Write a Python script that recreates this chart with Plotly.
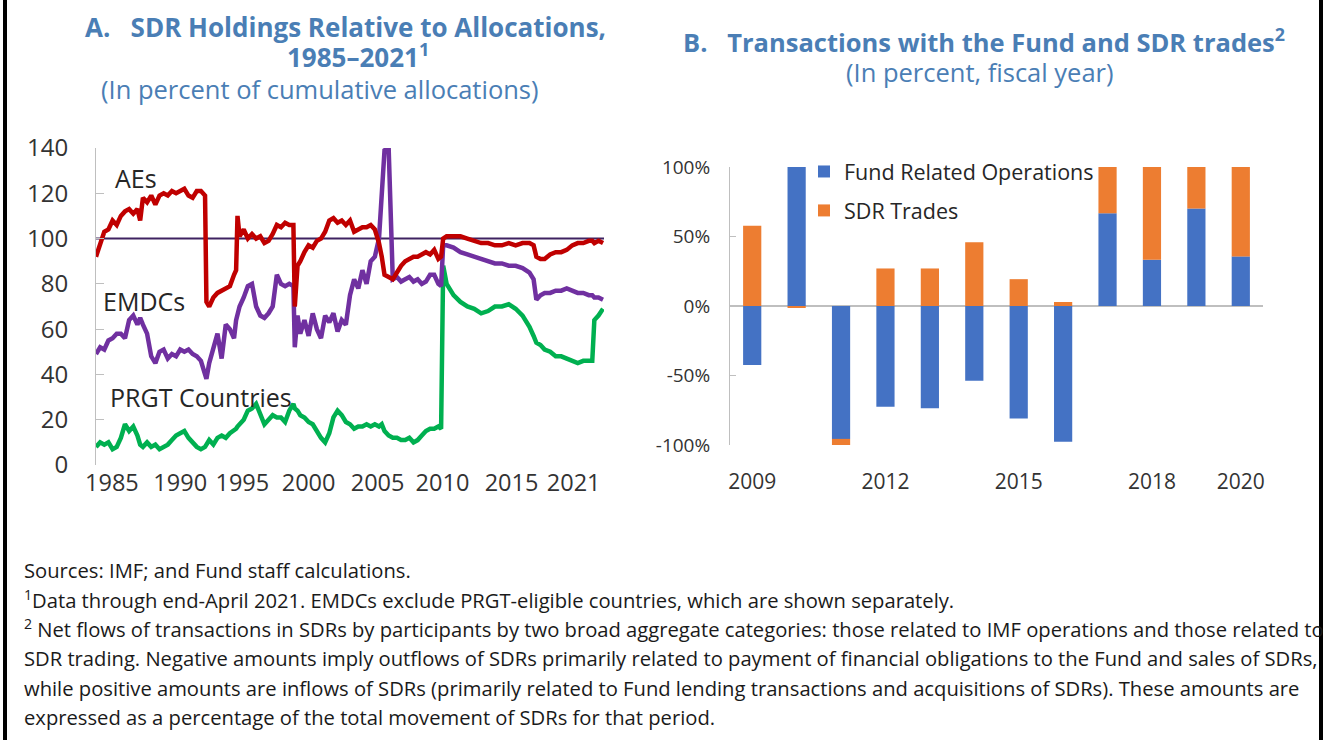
import plotly.graph_objects as go

# ---------------- Panel A data (percent of cumulative allocations) ----------------
years = [
    1984.6, 1984.9, 1985.2, 1985.5, 1985.8, 1986.1, 1986.4, 1986.7, 1987.0, 1987.3,
    1987.6, 1987.8, 1988.0, 1988.3, 1988.6, 1988.9, 1989.2, 1989.5, 1989.8, 1990.1,
    1990.4, 1990.7, 1991.0, 1991.3, 1991.6, 1991.9, 1992.2, 1992.5, 1992.6, 1992.8,
    1993.1, 1993.4, 1993.7, 1994.0, 1994.3, 1994.6, 1994.75, 1994.85, 1995.0, 1995.3,
    1995.6, 1995.9, 1996.2, 1996.5, 1996.8, 1997.1, 1997.4, 1997.7, 1998.0, 1998.3,
    1998.6, 1998.9, 1999.0, 1999.2, 1999.4, 1999.7, 2000.0, 2000.3, 2000.6, 2000.9,
    2001.2, 2001.5, 2001.8, 2002.1, 2002.4, 2002.7, 2003.0, 2003.3, 2003.6, 2003.9,
    2004.2, 2004.5, 2004.8, 2005.1, 2005.3, 2005.5, 2005.8, 2006.1, 2006.4, 2006.7,
    2007.0, 2007.3, 2007.6, 2007.9, 2008.2, 2008.5, 2008.8, 2009.1, 2009.4, 2009.6,
    2009.75, 2010.0, 2010.5, 2011.0, 2011.5, 2012.0, 2012.5, 2013.0, 2013.5, 2014.0,
    2014.5, 2015.0, 2015.5, 2016.0, 2016.3, 2016.5, 2016.8, 2017.1, 2017.5, 2017.9,
    2018.3, 2018.7, 2019.1, 2019.5, 2019.9, 2020.3, 2020.55, 2020.7, 2021.0, 2021.33,
]
aes = [
    92, 97, 103, 104, 108, 106, 110, 112, 113, 111,
    113, 108, 118, 116, 119, 115, 119, 120, 119, 121,
    120, 121, 122, 119, 118, 121, 121, 119, 72, 70,
    74, 76, 77, 78, 79, 84, 86, 110, 101, 104,
    100, 102, 100, 101, 98, 99, 102, 106, 105, 107,
    106, 106, 70, 88, 90, 94, 97, 96, 99, 100,
    103, 108, 109, 107, 108, 106, 108, 103, 104, 105,
    105, 106, 104, 98, 92, 84, 83, 82, 85, 88,
    90, 91, 92, 92, 93, 94, 93, 95, 91, 92,
    100, 101, 101, 101, 100, 99, 98, 98, 97, 97,
    98, 97, 98, 98, 97, 92, 91, 91, 93, 94,
    94, 95, 97, 98, 98, 99, 99, 98, 99, 98,
]
emdcs = [
    49, 52, 51, 55, 56, 58, 58, 56, 64, 66,
    62, 65, 62, 58, 48, 45, 50, 51, 47, 49,
    48, 51, 50, 51, 49, 48, 46, 40, 38, 45,
    51, 58, 47, 62, 60, 56, 64, 66, 70, 74,
    79, 80, 70, 66, 65, 67, 70, 84, 80, 79,
    80, 79, 52, 66, 58, 64, 57, 67, 60, 56,
    66, 63, 67, 59, 64, 62, 75, 82, 78, 86,
    80, 90, 92, 100, 122, 139, 140, 82, 83, 81,
    82, 83, 81, 82, 80, 81, 84, 84, 80, 79,
    97, 97, 96, 94, 93, 92, 91, 90, 89, 89,
    88, 88, 87, 85, 82, 73, 75, 76, 76, 77,
    77, 78, 77, 76, 76, 75, 75, 74, 74, 73,
]
prgt = [
    8, 10, 9, 10, 7, 8, 12, 18, 15, 17,
    13, 9, 8, 10, 8, 9, 7, 8, 9, 11,
    13, 14, 15, 12, 10, 8, 7, 8, 9, 11,
    9, 12, 13, 12, 14, 15, 16, 17, 18, 20,
    24, 25, 27, 23, 18, 20, 22, 21, 21, 19,
    24, 27, 25, 24, 22, 21, 19, 18, 15, 12,
    10, 14, 21, 24, 22, 19, 18, 16, 17, 17,
    18, 17, 18, 17, 18, 15, 13, 12, 12, 11,
    11, 12, 10, 11, 13, 15, 16, 16, 17, 16,
    88, 80, 75, 72, 70, 69, 67, 68, 70, 70,
    71, 69, 66, 61, 57, 54, 53, 51, 50, 48,
    48, 47, 46, 45, 46, 46, 46, 64, 66, 69,
]
reference_level = 100
a_tick_labels = ["1985", "1990", "1995", "2000", "2005", "2010", "2015", "2021"]
a_tick_positions = [1985.75, 1990.7, 1995.2, 2000.0, 2005.0, 2009.7, 2014.7, 2019.2]

# ---------------- Panel B data (percent of total SDR movement, fiscal year) ----------------
fiscal_years = [2009, 2010, 2011, 2012, 2013, 2014, 2015, 2016, 2017, 2018, 2019, 2020]
fund_ops = [-42.4, 100.8, -95.6, -72.5, -73.5, -53.7, -81.0, -97.6, 66.7, 33.3, 70.1, 35.7]
sdr_trades = [57.8, -1.0, -4.4, 27.0, 27.0, 45.8, 19.3, 2.9, 33.3, 66.7, 29.9, 64.3]
b_tick_years = [2009, 2012, 2015, 2018, 2020]

W, H = 1326, 740
FONT = "Open Sans"
TITLE_BLUE = "#4A7EB5"
TXT = "#262626"


def pxx(x):
    return x / W


def pyy(y):
    return 1 - y / H


fig = go.Figure()

# Reference line at 100
fig.add_shape(type="line", xref="x domain", yref="y", x0=0, x1=1,
              y0=reference_level, y1=reference_level,
              line=dict(color="#3F2261", width=2), layer="below")

fig.add_trace(go.Scatter(x=years, y=prgt, mode="lines", name="PRGT Countries",
                         line=dict(color="#00B050", width=4.5), showlegend=False,
                         xaxis="x", yaxis="y"))
fig.add_trace(go.Scatter(x=years, y=emdcs, mode="lines", name="EMDCs",
                         line=dict(color="#7030A0", width=4.5), showlegend=False,
                         xaxis="x", yaxis="y"))
fig.add_trace(go.Scatter(x=years, y=aes, mode="lines", name="AEs",
                         line=dict(color="#C00000", width=4.5), showlegend=False,
                         xaxis="x", yaxis="y"))

fig.add_trace(go.Bar(x=fiscal_years, y=fund_ops, name="Fund Related Operations",
                     marker=dict(color="#4472C4", line=dict(width=0)),
                     xaxis="x2", yaxis="y2", legendgroup="a"))
fig.add_trace(go.Bar(x=fiscal_years, y=sdr_trades, name="SDR Trades",
                     marker=dict(color="#ED7D31", line=dict(width=0)),
                     xaxis="x2", yaxis="y2", legendgroup="b"))

fig.update_layout(
    template="none",
    width=W, height=H, autosize=False,
    margin=dict(l=0, r=0, t=0, b=0, pad=0, autoexpand=False),
    paper_bgcolor="white", plot_bgcolor="white",
    font=dict(family=FONT, color=TXT),
    barmode="relative", bargap=0.59,
    legend=dict(x=pxx(804), y=pyy(151), xanchor="left", yanchor="top",
                font=dict(size=21.5, color=TXT), bgcolor="rgba(0,0,0,0)",
                tracegroupgap=8, itemwidth=30),
    xaxis=dict(domain=[pxx(96), pxx(604)], range=[1984.6, 2021.4], anchor="y",
               automargin=False,
               tickvals=a_tick_positions, ticktext=a_tick_labels,
               showgrid=False, zeroline=False, showline=False, ticks="",
               tickfont=dict(size=23.5, color="#333333"), ticklabelstandoff=1),
    yaxis=dict(domain=[pyy(465), pyy(148)], range=[0, 140], anchor="x",
               automargin=False,
               tickvals=[0, 20, 40, 60, 80, 100, 120, 140],
               showgrid=False, zeroline=False, showline=True,
               linecolor="#BFBFBF", linewidth=1,
               ticks="inside", ticklen=8, tickcolor="#BFBFBF",
               tickfont=dict(size=24, color="#333333"), ticklabelstandoff=22),
    xaxis2=dict(domain=[pxx(730), pxx(1263)], range=[2008.5, 2020.5], anchor="y2",
                automargin=False,
                tickvals=b_tick_years, ticktext=[str(v) for v in b_tick_years],
                showgrid=False, zeroline=False, showline=False, ticks="",
                tickfont=dict(size=21, color="#333333"), ticklabelstandoff=22),
    yaxis2=dict(domain=[pyy(445), pyy(167)], range=[-100, 100], anchor="x2",
                automargin=False,
                tickvals=[-100, -50, 0, 50, 100],
                ticktext=["-100%", "-50%", "0%", "50%", "100%"],
                showgrid=False, showline=True, linecolor="#BFBFBF", linewidth=1,
                zeroline=True, zerolinecolor="#BFBFBF", zerolinewidth=1.5,
                ticks="inside", ticklen=6, tickcolor="#BFBFBF",
                tickfont=dict(size=19, color="#333333"), ticklabelstandoff=15),
)


def text(x, y, s, size, color=TXT, anchor="center", bold=False):
    fig.add_annotation(x=pxx(x), y=pyy(y), xref="paper", yref="paper",
                       text=("<b>%s</b>" % s) if bold else s, showarrow=False,
                       xanchor=anchor, yanchor="middle",
                       font=dict(size=size, color=color, family=FONT))


# Titles
text(345, 27, "A.   SDR Holdings Relative to Allocations,", 26, TITLE_BLUE, bold=True)
text(358, 56, "1985–2021<sup>1</sup>", 26, TITLE_BLUE, bold=True)
text(320, 89, "(In percent of cumulative allocations)", 25.5, TITLE_BLUE)
text(984, 40, "B.   Transactions with the Fund and SDR trades<sup>2</sup>", 25.5, TITLE_BLUE, bold=True)
text(980, 72, "(In percent, fiscal year)", 25.5, TITLE_BLUE)

# Line labels
text(136, 178, "AEs", 25)
text(144, 301, "EMDCs", 25)
text(201, 397, "PRGT Countries", 25)

# Footnotes
notes = [
    "Sources: IMF; and Fund staff calculations.",
    "<sup>1</sup>Data through end-April 2021. EMDCs exclude PRGT-eligible countries, which are shown separately.",
    "<sup>2</sup> Net flows of transactions in SDRs by participants by two broad aggregate categories: those related to IMF operations and those related to",
    "SDR trading. Negative amounts imply outflows of SDRs primarily related to payment of financial obligations to the Fund and sales of SDRs,",
    "while positive amounts are inflows of SDRs (primarily related to Fund lending transactions and acquisitions of SDRs). These amounts are",
    "expressed as a percentage of the total movement of SDRs for that period.",
]
note_y = [570, 599, 628, 658, 688, 717]
for s, y in zip(notes, note_y):
    text(22, y, s, 20.2, "#1A1A1A", anchor="left")

# Frame borders
fig.add_shape(type="line", xref="paper", yref="paper", x0=pxx(5), x1=pxx(5), y0=0, y1=1,
              line=dict(color="black", width=4), layer="above")
fig.add_shape(type="line", xref="paper", yref="paper", x0=pxx(1321), x1=pxx(1321), y0=0, y1=1,
              line=dict(color="black", width=4), layer="above")

fig.write_html("out.html", config={"displayModeBar": False},
               post_script="document.body.style.margin='0px';")
